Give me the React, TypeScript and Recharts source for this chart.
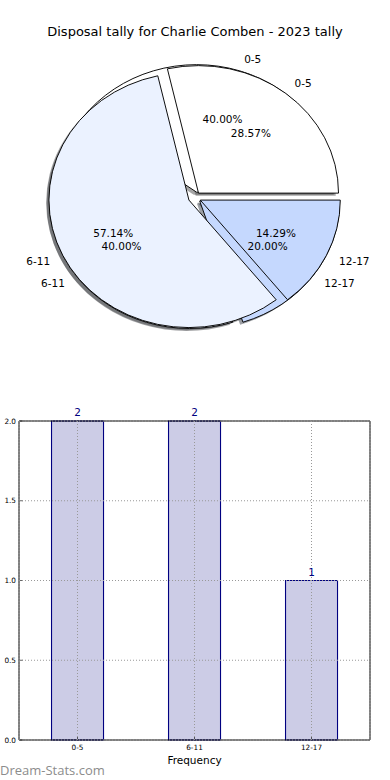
import React from 'react';
import { PieChart, Pie, Cell, BarChart, Bar, XAxis, YAxis, CartesianGrid, LabelList } from 'recharts';

// ---- data ----
const categories = ['0-5', '6-11', '12-17'];
const tallyFront = [2, 2, 1]; // first pie + bar chart
const tallyBack = [2, 4, 1]; // second pie (drawn on top)
const yTicks = [0, 0.5, 1, 1.5, 2];

// ---- styles ----
const SLICE_COLORS = ['#ffffff', '#ebf2ff', '#c5d8fe'];
const SHADOW_COLORS = ['rgb(77,77,77)', 'rgb(71,73,77)', 'rgb(59,65,76)'];
const FONT = '"DejaVu Sans", Verdana, sans-serif';
const CX = 194.6;
const CY = 197.6;
const R = 127.5;
const SX = 140 / 127.5;
const EXPLODE = 0.045;
const SHADOW = 0.02;
const RAD = Math.PI / 180;

const rows = (vals: number[]) => categories.map((name, i) => ({ name, value: vals[i] }));

const midAngles = (vals: number[]) => {
  const total = vals.reduce((a, b) => a + b, 0);
  let cum = 0;
  return vals.map((v) => {
    const m = ((cum + v / 2) / total) * 360;
    cum += v;
    return m;
  });
};

function slicePies(vals: number[], setKey: string, shadow: boolean) {
  const mids = midAngles(vals);
  const data = rows(vals);
  return vals.map((_, i) => {
    const dx = EXPLODE * R * Math.cos(mids[i] * RAD) + (shadow ? -SHADOW * R : 0);
    const dy = -EXPLODE * R * Math.sin(mids[i] * RAD) + (shadow ? SHADOW * R : 0);
    return (
      <Pie
        key={`${setKey}-${shadow ? 's' : 'w'}-${i}`}
        data={data}
        dataKey="value"
        nameKey="name"
        cx={CX + dx}
        cy={CY + dy}
        innerRadius={0}
        outerRadius={R}
        startAngle={0}
        endAngle={360}
        label={false}
        labelLine={false}
        isAnimationActive={false}
        stroke="none"
      >
        {data.map((_, j) => (
          <Cell
            key={j}
            fill={j === i ? (shadow ? SHADOW_COLORS[i] : SLICE_COLORS[i]) : 'none'}
            fillOpacity={shadow ? 0.5 : 1}
            stroke={j === i && !shadow ? '#000' : 'none'}
            strokeWidth={0.9}
          />
        ))}
      </Pie>
    );
  });
}

const counter = (x: number) => `translate(${x},0) scale(${1 / SX},1) translate(${-x},0)`;

const makeLabel = (vals: number[]) => (props: any) => {
  const { cx, cy, midAngle, outerRadius, index } = props;
  const total = vals.reduce((a, b) => a + b, 0);
  const c = Math.cos(-midAngle * RAD);
  const s = Math.sin(-midAngle * RAD);
  const ex = cx + EXPLODE * outerRadius * c;
  const ey = cy + EXPLODE * outerRadius * s;
  const lx = ex + 1.1 * outerRadius * c;
  const ly = ey + 1.1 * outerRadius * s;
  const px = ex + 0.6 * outerRadius * c;
  const py = ey + 0.6 * outerRadius * s;
  const pct = ((vals[index] / total) * 100).toFixed(2) + '%';
  return (
    <g key={`lab-${index}`}>
      <text
        x={lx}
        y={ly}
        textAnchor={c > 0 ? 'start' : 'end'}
        dominantBaseline="central"
        transform={counter(lx)}
        fontFamily={FONT}
        fontSize={10.5}
        fill="#000"
      >
        {categories[index]}
      </text>
      <text
        x={px}
        y={py}
        textAnchor="middle"
        dominantBaseline="central"
        transform={counter(px)}
        fontFamily={FONT}
        fontSize={10.5}
        fill="#000"
      >
        {pct}
      </text>
    </g>
  );
};

function labelPie(vals: number[], key: string) {
  const data = rows(vals);
  return (
    <Pie
      key={key}
      data={data}
      dataKey="value"
      nameKey="name"
      cx={CX}
      cy={CY}
      innerRadius={0}
      outerRadius={R}
      startAngle={0}
      endAngle={360}
      label={makeLabel(vals)}
      labelLine={false}
      isAnimationActive={false}
      stroke="none"
      fill="none"
    >
      {data.map((_, j) => (
        <Cell key={j} fill="none" stroke="none" />
      ))}
    </Pie>
  );
}

const barRows = categories.map((name, i) => ({ name, value: tallyFront[i] }));

export default function App() {
  return (
    <div style={{ position: 'absolute', left: 0, top: 0, width: 390, height: 780, background: '#fff' }}>
      <div
        style={{
          position: 'absolute',
          left: 0,
          top: 0,
          width: 390,
          height: 370,
          transform: `scaleX(${SX})`,
          transformOrigin: `${CX}px ${CY}px`,
        }}
      >
        <PieChart width={390} height={370} margin={{ top: 0, right: 0, bottom: 0, left: 0 }}>
          {slicePies(tallyFront, 'a', true)}
          {slicePies(tallyBack, 'b', true)}
          {slicePies(tallyFront, 'a', false)}
          {slicePies(tallyBack, 'b', false)}
          {labelPie(tallyFront, 'la')}
          {labelPie(tallyBack, 'lb')}
        </PieChart>
      </div>

      <div style={{ position: 'absolute', left: 0, top: 400, width: 390, height: 380 }}>
        <BarChart
          width={390}
          height={380}
          data={barRows}
          margin={{ top: 20, right: 19, bottom: 10, left: 0 }}
          barCategoryGap="27.8%"
        >
          <XAxis
            xAxisId="b"
            dataKey="name"
            height={30}
            tickSize={-4}
            tickMargin={9}
            tick={{ fontSize: 7.3, fill: '#000', fontFamily: FONT }}
            axisLine={{ stroke: '#000', strokeWidth: 1 }}
            tickLine={{ stroke: '#000', strokeWidth: 0.6 }}
            label={{ value: 'Frequency', position: 'insideBottom', offset: 6, fontSize: 10.5, fill: '#000', fontFamily: FONT }}
          />
          <XAxis
            xAxisId="t"
            dataKey="name"
            orientation="top"
            height={1}
            tickSize={-4}
            tick={false}
            axisLine={{ stroke: '#000', strokeWidth: 1 }}
            tickLine={{ stroke: '#000', strokeWidth: 0.6 }}
          />
          <YAxis
            yAxisId="l"
            domain={[0, 2]}
            ticks={yTicks}
            width={19}
            tickSize={-4}
            tickMargin={7}
            tickFormatter={(v: number) => v.toFixed(1)}
            tick={{ fontSize: 7.3, fill: '#000', fontFamily: FONT }}
            axisLine={{ stroke: '#000', strokeWidth: 1 }}
            tickLine={{ stroke: '#000', strokeWidth: 0.6 }}
          />
          <YAxis
            yAxisId="r"
            orientation="right"
            domain={[0, 2]}
            ticks={yTicks}
            width={1}
            tickSize={-4}
            tick={false}
            axisLine={{ stroke: '#000', strokeWidth: 1 }}
            tickLine={{ stroke: '#000', strokeWidth: 0.6 }}
          />
          <Bar
            xAxisId="b"
            yAxisId="l"
            dataKey="value"
            fill="#000080"
            fillOpacity={0.2}
            stroke="#000080"
            strokeWidth={1.1}
            isAnimationActive={false}
          >
            <LabelList dataKey="value" position="top" offset={5} fill="#000080" fontSize={10.5} fontFamily={FONT} />
          </Bar>
          <CartesianGrid
            xAxisId="b"
            yAxisId="l"
            stroke="#999"
            strokeWidth={1}
            strokeDasharray="1 2"
            {...({ zIndex: 1000 } as any)}
          />
        </BarChart>
      </div>

      <svg
        width={390}
        height={780}
        style={{ position: 'absolute', left: 0, top: 0, pointerEvents: 'none' }}
      >
        <text x={195} y={35.5} textAnchor="middle" fontFamily={FONT} fontSize={13} fill="#000">
          Disposal tally for Charlie Comben - 2023 tally
        </text>
        <text x={0} y={775} textAnchor="start" fontFamily='"Open Sans", sans-serif' fontSize={13} fill="#8c8c8c">
          Dream-Stats.com
        </text>
      </svg>
    </div>
  );
}
